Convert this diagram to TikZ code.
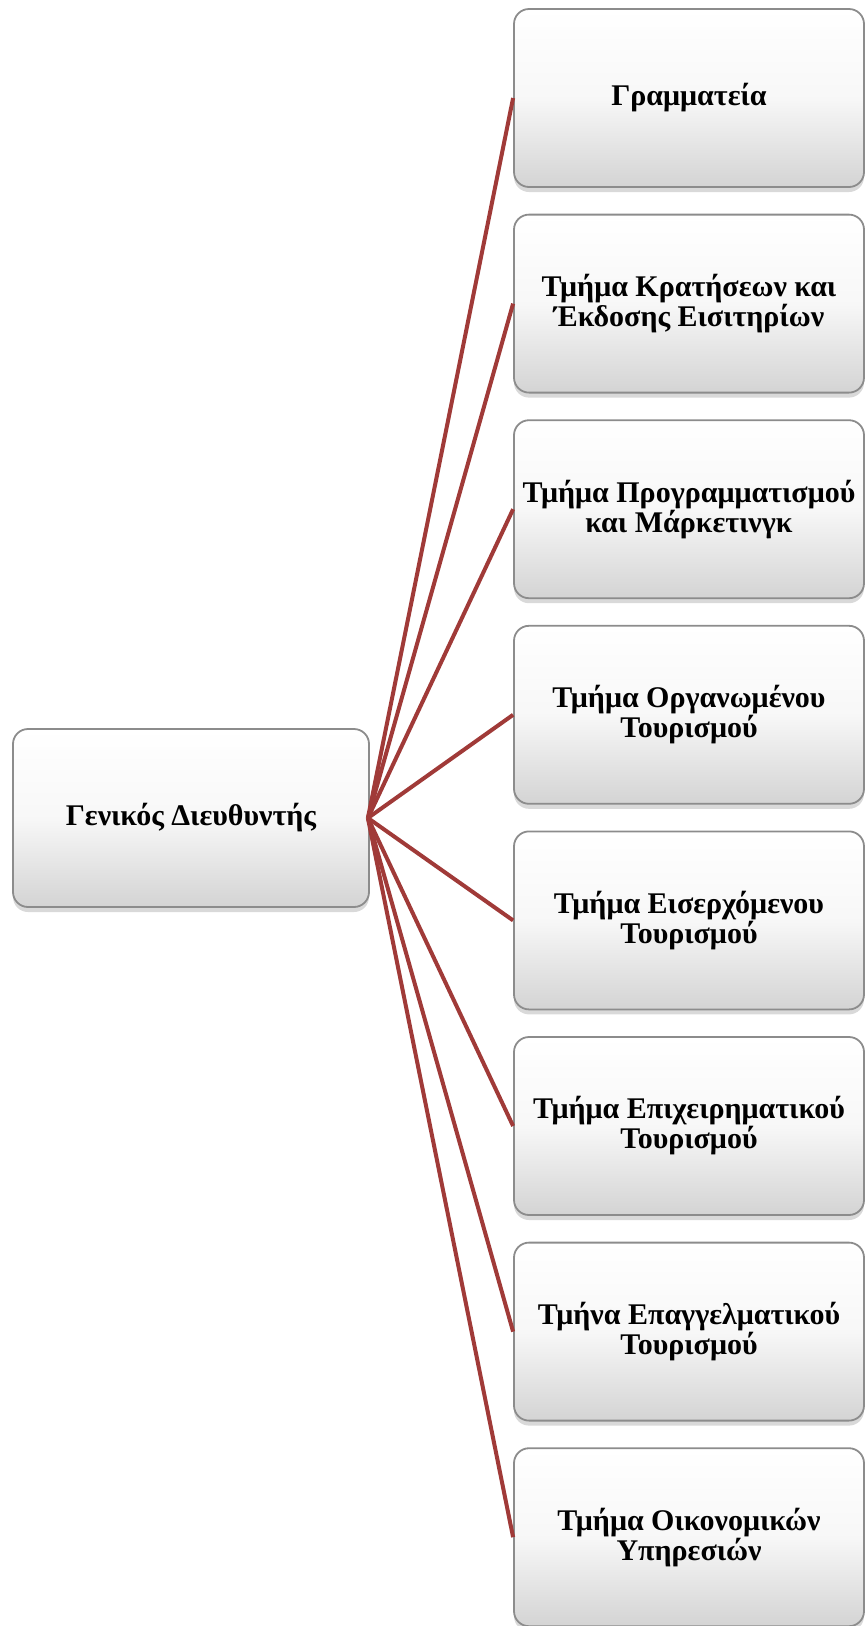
\documentclass[tikz,border=0pt]{standalone}
\usepackage{fontspec}
\setmainfont{Liberation Serif}
\usetikzlibrary{shadows}
\definecolor{linkred}{RGB}{160,58,56}
\definecolor{bevelgray}{RGB}{140,140,140}

\tikzset{
  unitbox/.style={draw=bevelgray,line width=1.8pt,rounded corners=15pt,
    top color=white,bottom color=black!17,middle color=black!3,
    align=center,inner sep=0pt,
    font=\bfseries\fontsize{30}{30}\selectfont,
    drop shadow={opacity=0.3,shadow xshift=0pt,shadow yshift=-5pt}},
  link/.style={draw=linkred,line width=4pt}
}

\begin{document}
\begin{tikzpicture}[x=1pt,y=-1pt]
  \useasboundingbox (0,0) rectangle (866,1626);
  \node[unitbox,minimum width=356pt,minimum height=178pt] (gd) at (191,818) {Γενικός Διευθυντής};
  \begin{scope}[every node/.style={unitbox,minimum width=350pt,minimum height=178pt}]
   \node (gram) at (689,  98.0) {Γραμματεία};
   \node (krat) at (689, 303.6) {Τμήμα Κρατήσεων και\\Έκδοσης Εισιτηρίων};
   \node (prog) at (689, 509.2) {Τμήμα Προγραμματισμού\\και Μάρκετινγκ};
   \node (orga) at (689, 714.8) {Τμήμα Οργανωμένου\\Τουρισμού};
   \node (eise) at (689, 920.4) {Τμήμα Εισερχόμενου\\Τουρισμού};
   \node (epix) at (689,1126.0) {Τμήμα Επιχειρηματικού\\Τουρισμού};
   \node (epag) at (689,1331.6) {Τμήνα Επαγγελματικού\\Τουρισμού};
   \node (oiko) at (689,1537.2) {Τμήμα Οικονομικών\\Υπηρεσιών};
  \end{scope}
  \begin{scope}[link]
   \draw ([xshift=-2pt]gd.east) -- (gram.west);
   \draw ([xshift=-2pt]gd.east) -- (krat.west);
   \draw ([xshift=-2pt]gd.east) -- (prog.west);
   \draw ([xshift=-2pt]gd.east) -- (orga.west);
   \draw ([xshift=-2pt]gd.east) -- (eise.west);
   \draw ([xshift=-2pt]gd.east) -- (epix.west);
   \draw ([xshift=-2pt]gd.east) -- (epag.west);
   \draw ([xshift=-2pt]gd.east) -- (oiko.west);
  \end{scope}
 \end{tikzpicture}
\end{document}
